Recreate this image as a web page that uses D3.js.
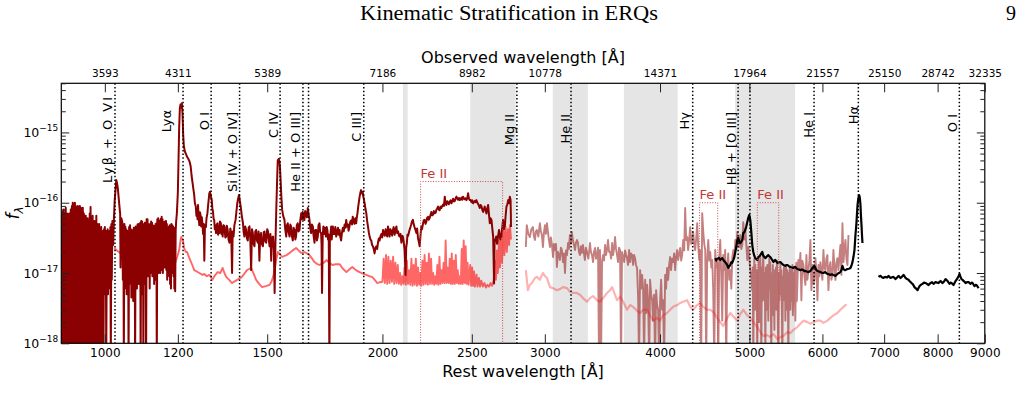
<!DOCTYPE html>
<html><head><meta charset="utf-8">
<script src="https://cdn.jsdelivr.net/npm/d3@7"></script>
<style>body{margin:0;background:#fff}svg{display:block}</style>
</head><body>
<svg id="chart" width="1021" height="403" font-family="DejaVu Sans, sans-serif"></svg>
<script>
// ---------------- data ----------------
const restTicks = [1000,1200,1500,2000,2500,3000,4000,5000,6000,7000,8000,9000];
const observedTickLabels = ["3593","4311","5389","7186","8982","10778","14371","17964","21557","25150","28742","32335"];
const yMajorTicks = [1e-18,1e-17,1e-16,1e-15];
const yTickExponents = ["−18","−17","−16","−15"];
const minorMultipliers = [2,3,4,5,6,7,8,9];
const shadedBands = [[2105,2130],[2490,2790],[3060,3340],[3655,4180],[4825,5605]];
const lineNames = ["Lyβ + O VI","Lyα","O I","Si IV + O IV]","C IV","He II + O III]","C III]","Mg II","He II","Hγ","Hβ + [O III]","He I","Hα","O I"];
const lineWaves = [1025.7,1215.7,1304,1400,1549,1640,1909,2798,3203,4340,4861,5876,6563,8446];
const extraLineWaves = [1663,5007];
const feBands = [[2200,2700],[4415,4620],[5100,5380]];
const feTops = [2e-16,1e-16,1e-16];
const fluxUnit = 1e-17; // spectra below are in units of 1e-17

const specBlue = [[895,7],[896,0.05],[897.5,6.5],[898.5,0.05],[900,7.5],[901,0.2],[902,8],[903,0.05],[904.5,7],[905.5,0.05],[907,8.5],[908,0.1],[909,6.5],[910,0.05],[911.5,7],[912.5,0.05],[914,6],[915,0.3],[916,7],[917,0.05],[918.5,8],[919.5,0.05],[921,9],[922,0.05],[923,10],[924,0.1],[925.5,9.5],[926.5,0.05],[928,10],[929,0.05],[930,9],[931,0.2],[932.5,8.5],[933.5,0.05],[935,9],[936,0.05],[937,8],[938,0.1],[939.5,9],[940.5,0.05],[942,8.5],[943,0.05],[944,7.5],[945,0.3],[946.5,8.5],[947.5,0.05],[949,7],[950,0.05],[951,6],[952,0.15],[953.5,6.5],[954.5,0.05],[956,5.5],[957,0.4],[958,6],[959,0.05],[960.5,5.5],[961.5,0.05],[963,7],[964,0.2],[965,8.7],[966,0.05],[967.5,6],[968.5,0.05],[970,6.5],[971,0.3],[972,5],[973,0.05],[974.5,5.5],[975.5,0.05],[977,5],[978,0.5],[979,6.5],[980,0.05],[981.5,5],[982.5,0.05],[984,4.5],[985,0.3],[986,5],[987,0.05],[988.5,4],[989.5,0.4],[991,4.5],[992,0.05],[993,4],[994,0.6],[995.5,3.8],[996.5,0.05],[998,4.2],[999,0.7],[1000,4.5],[1001,0.5],[1002.5,4],[1003.5,0.05],[1005,3.8],[1006,0.8],[1007,4.2],[1008,0.5],[1009.5,3.6],[1010.5,0.9],[1012,4],[1013,0.6],[1014,4.5],[1015,0.05],[1016.5,5],[1017.5,0.8],[1019,5.5],
[1020,5.5],[1021,2.5],[1023,6],[1025,11],[1027,15],[1029,21],[1031,19],[1033,16],[1035,12],[1037,9],[1039,7],[1040,1.2],[1042,6],[1044,5.5],
[1045,5],[1046,0.8],[1047.5,4.5],[1048.5,0.05],[1050,5],[1051,0.6],[1052.5,4.6],[1053.5,0.8],[1055,4.2],[1056,0.5],[1057.5,4],[1058.5,0.9],[1060,3.8],[1061,0.05],[1062.5,4.5],[1063.5,0.7],[1065,4.8],[1066,0.9],[1067.5,4.2],[1068.5,0.45],[1070,3.8],[1071,0.7],[1072.5,4.1],[1073.5,0.4],[1075,4.4],[1076,0.8],[1077.5,4.2],[1078.5,0.05],[1080,4.6],[1081,0.9],[1082.5,4.5],[1083.5,0.6],[1085,4.9],[1086,1.0],[1087.5,5],[1088.5,0.7],[1090,4.5],[1091,0.8],[1092.5,5.2],[1093.5,0.05],[1095,5.5],[1096,0.9],[1097.5,5.4],[1098.5,0.5],[1100,4.8],[1101,0.05],[1102.5,5],[1103.5,1.0],[1105,5.2],[1106,0.7],[1107.5,4.6],[1108.5,0.05],[1110,5.8],[1111,1.0],[1112.5,5.8],[1113.5,0.9],[1115,5],[1116,1.1],[1117.5,4.6],[1118.5,0.6],[1120,5],[1121,1.0],[1122.5,5.4],[1123.5,1.2],[1125,5.2],[1126,0.9],[1127.5,4.8],[1128.5,1.1],[1130,4.4],[1131,0.7],[1132.5,4.7],[1133.5,1.0],[1135,5],[1136,0.8],[1137.5,5.1],[1138.5,0.05],[1140,5.8],[1141,1.1],[1142.5,6],[1143.5,1.0],[1145,5.6],[1146,1.2],[1147.5,5.5],[1148.5,1.0],[1150,5.9],[1151,1.3],[1152.5,6.3],[1153.5,1.1],[1155,5.8],[1156,1.0],[1157.5,5.3],[1158.5,1.4],[1160,5],[1161,1.2],[1162.5,5.4],[1163.5,1.5],[1165,5.5],[1166,1.1],[1167.5,5],[1168.5,0.8],
[1170,4.2],[1171,4.4],[1172,1.1],[1173.5,4.6],[1174.5,0.9],[1176,4.8],[1177,0.7],[1178.5,4.5],[1179.5,0.6],[1181,5],[1182,1.0],[1183.5,4.8],[1184.5,1.1],[1186,4.6],[1187,0.9],[1188.5,4.4],[1189.5,0.6],[1191,4.2],[1192,0.55],[1193.5,4.0],[1195,5.5],[1197,7],[1200,14],[1202,40],[1204,120],[1206,220],[1208,250],[1210,225],[1212,260],[1214,190],[1216,95],[1218,65],[1221,54],[1224,50],[1228,45],[1232,42],[1236,38],[1239,33],[1242,24],[1245,19],[1248,15],
[1250,12.9],[1252,10],[1255,8.8],[1257,6.5],[1259,7.4],[1260.5,5.8],[1262,9.3],[1264,6.2],[1266,4.8],[1268,7.3],[1270,6.7],[1272,4.6],[1274,6.2],[1276,5.1],[1278,3.6],[1280,5],[1282,1.5],[1284,4.8],[1287,4.5],[1289,6],[1292,7.1],[1294,9],[1296,11],[1298,13.5],[1300,14.3],[1303,12.5],[1306,10.9],[1308,8.3],[1310,7.5],[1312,5.9],[1314,5.7],[1316,4.2],[1318,4.6],[1320,3.7],[1322,4.9],[1325,5.1],[1327,3.5],[1329,4.6],[1331,3.7],[1333,5.4],[1336,5.1],[1338,3.6],[1340,4.6],[1342,3.3],[1345,4.8],[1348,4.6],[1351,3.2],[1354,3.3],[1356,4.7],[1359,4.1],[1362,3.0],[1365,2.7],[1368,4.3],[1371,3.7],[1374,1.0],[1376,3.9],[1379,3.3],[1382,4.8],[1386,5.7],[1389,7.5],[1392,9.9],[1395,11.5],[1398,12.9],[1401,10.5],[1404,8.8],[1408,6.4],[1412,5.1],[1414,3.9],[1417,3.3],[1420,4.6],[1423,4.1],[1426,3.1],[1429,2.9],[1432,4.4],[1435,4.6],[1438,3.0],[1441,1.1],[1444,4.2],[1447,3.7],[1450,2.6],[1453,2.4],[1456,3.9],[1459,4.1],[1462,2.9],[1465,2.7],[1468,3.9],[1471,1.5],[1474,3.4],[1477,3.7],[1480,2.6],[1484,2.4],[1487,3.8],[1490,3.9],[1493,2.8],[1496,2.7],[1500,4.2],[1503,3.9],[1506,2.9],[1509,2.4],[1512,3.6],[1515,1.5],[1518,3.2],[1522,3.3],[1525,2.2],[1528,0.52],[1531,2.5],[1534,7.1],[1537,18],[1540,40],[1544,42],[1547,38],[1549,30],[1551,21],[1554,12],[1557,7.9],[1561,6.5],[1566,5.7],[1569,4.2],[1573,3.3],[1576,4.8],[1579,5.1],[1582,3.9],[1586,3.3],[1589,4.9],[1592,4.6],[1595,3.4],[1599,2.9],[1602,4.4],[1606,4.1],[1609,3.0],[1612,3.3],[1615,4.8],[1619,5.1],[1622,3.9],[1626,4.1],[1629,5.6],[1633,7.1],[1636,5.8],[1639,7.4],[1642,6.0],[1646,5.7],[1649,7.6],[1653,7.1],[1656,6.2],[1660,8.4],[1663,7.0],[1667,5.7],[1670,4.4],[1674,3.7],[1677,4.9],[1681,4.6],[1684,3.4],[1688,2.7],[1691,4.1],[1695,4.1],[1698,2.9],[1702,3.3],[1705,4.8],[1709,5.1],[1712,3.8],[1716,3.7],[1718,2.5],[1720,0.52],[1723,3.5],[1726,4.6],[1730,3.6],[1733,4.4],
[1737,3.3],[1740,4.5],[1743,4.1],[1746,3.0],[1749,3.5],[1752,0.05],[1754,3.1],[1757,3.7],[1760,4.6],[1762,3.0],[1765,3.9],[1767,4.6],[1770,3.6],[1774,3.6],[1778,4.5],[1782,3.3],[1786,3.9],[1790,4.4],[1793,3.5],[1797,4.1],[1800,3.3],[1804,2.9],[1808,3.8],[1812,4.4],[1816,3.9],[1820,4.9],[1824,4.4],[1827,5.7],[1831,4.6],[1835,4.9],[1838,4.0],[1842,4.6],[1846,5.4],[1850,5.6],[1854,4.9],[1857,6.3],[1861,5.6],[1865,5.0],[1869,6.0],[1873,5.1],[1876,6.2],[1879,7],[1882,8.5],[1885,9.9],[1888,11.5],[1890,12.5],[1893,14],[1896,15.1],[1900,13.5],[1904,14.3],[1906,12.5],[1909,11.5],[1911,10.5],[1913,9.9],[1917,8.2],[1921,7.1],[1925,5.5],[1929,4.6],[1933,3.8],[1937,3.3],[1941,3.0],[1945,2.9],[1949,2.5],[1953,2.4],[1957,2.2],[1961,1.9],[1966,2.3],[1970,2.4],[1974,2.2],[1978,2.7],[1982,3.1],[1986,2.9],[1990,3.3],[1995,3.6],[1999,3.2],[2003,4.1],[2007,3.6],[2012,3.4],[2016,4.2],[2020,3.7],[2024,3.3],[2028,4.6],[2032,3.9],[2036,3.3],[2040,4.2],[2045,3.9],[2049,3.4],[2053,4.1],[2057,4.5],[2062,3.5],[2066,4.1],[2071,4.6],[2075,3.7],[2080,3.9],[2084,3.4],[2088,3.3],[2092,3.6],[2097,2.7],[2101,3.4],[2105,3.3],[2109,2.8],[2114,2.1],[2119,0.94],[2122,2.3],[2126,2.7],[2129,3.5],[2133,3.4],[2137,3.8],[2140,4.1],[2145,4.5],[2149,4.9],[2153,5.4],[2158,5.7],[2162,5.0],[2167,4.5],[2172,4.1],[2177,3.7],[2181,4.3],[2186,3.1],[2190,2.8],[2195,2.4],[2200,3.6],[2204,4.6],[2208,4.2],[2213,5.0],[2217,5.6],[2222,5.7],[2227,5.0],[2232,5.4],[2236,6.1],[2241,6.3],[2245,5.7],[2250,6.0],[2255,6.7],[2260,7.4],[2265,6.6],[2270,6.8],[2274,7.6],[2279,7.1],[2284,7.2],[2288,7.9],[2293,8.3],[2298,8.8],[2302,8.0],[2307,7.8],[2312,8.8],[2317,8.4],[2322,9.0],[2327,9.4],[2332,9.0],[2337,12.2],[2341,9.6],[2346,9.3],[2351,10.5],[2356,10.2],[2361,9.5],[2366,10.3],[2371,10.8],[2376,9.8],[2381,10.5],[2386,11.4],[2391,10.4],[2396,10.6],[2401,11.5],[2406,12.2],[2411,11.4],[2416,11.0],[2421,11.7],[2426,10.9],[2431,11.3],[2436,11.8],[2441,11.0],[2446,12.2],[2451,11.5],[2456,11.2],[2462,11.6],[2467,10.9],[2472,11.6],[2477,13.6],[2482,11.5],[2487,10.9],[2493,10.9],[2498,10.2],[2503,10.8],[2508,9.8],[2513,10.2],[2518,10.6],[2524,10.2],[2529,10.9],[2535,10.0],[2540,9.6],[2545,9.1],[2550,8.4],[2556,9.3],[2561,8.9],[2566,8.0],[2572,7.4],[2577,8.1],[2582,8.8],[2588,7.8],[2593,7.0],[2598,8.2],[2604,9.3],[2609,7.0],[2615,5.1],[2620,6.0],[2626,5.7],[2631,4.4],[2637,3.3],[2643,0.71],[2646,2.5],[2648,3.0],[2652,2.9],[2657,3.3],[2663,2.6],[2670,3.4],[2676,4.1],[2680,3.6],[2684,3.0],[2688,3.6],[2692,3.3],[2697,4.4],[2703,5.7],[2706,4.8],[2709,4.2],[2712,5.1],[2715,4.6],[2720,6.4],[2726,8.8],[2732,9.5],[2738,10.9],[2744,9.8],[2749,12.2],[2754,11],[2756,7.0],[2757,4.5]];

const modelBlue = [[1024,2.27],[1029,2.12],[1036,1.99],[1045,1.8],[1055,1.69],[1063,1.6],[1071,1.53],[1080,1.5],[1090,1.43],[1100,1.42],[1109,1.39],[1118,1.4],[1126,1.39],[1135,1.42],[1145,1.43],[1155,1.5],[1166,1.53],[1175,1.48],[1184,1.43],[1193,1.43],[1198,1.69],[1204,2.12],[1208,2.9],[1210,3.25],[1213,3.0],[1215,2.95],[1219,2.27],[1224,1.99],[1228,1.99],[1235,1.63],[1244,1.3],[1250,1.1],[1258,1.05],[1266,1.0],[1276,0.94],[1282,0.97],[1290,0.9],[1298,0.94],[1303,0.88],[1308,0.80],[1316,0.92],[1325,1.03],[1334,1.0],[1342,1.18],[1348,1.0],[1354,0.88],[1364,0.8],[1374,0.72],[1383,0.76],[1392,0.80],[1400,0.84],[1408,0.88],[1417,0.98],[1426,1.10],[1434,1.14],[1441,1.18],[1450,0.98],[1459,0.80],[1470,0.7],[1481,0.63],[1495,0.65],[1509,0.68],[1516,0.75],[1522,0.88],[1528,1.1],[1534,1.53],[1540,1.99],[1548,1.85],[1557,1.69],[1566,1.75],[1575,1.80],[1586,1.93],[1599,2.1],[1612,2.27],[1622,2.1],[1633,1.93],[1640,1.95],[1646,1.99],[1656,1.9],[1667,1.80],[1678,1.6],[1688,1.43],[1698,1.35],[1709,1.30],[1720,1.36],[1731,1.43],[1739,1.53],[1752,1.4],[1765,1.30],[1780,1.33],[1797,1.34],[1812,1.15],[1828,1.03],[1841,1.12],[1855,1.22],[1872,1.1],[1889,1.03],[1905,0.98],[1921,0.94],[1935,0.9],[1949,0.88],[1962,0.8],[1974,0.72],[1988,0.74],
[2000,0.75],[2006,1.6],[2012,0.72],[2018,1.8],[2024,0.7],[2030,1.7],[2036,0.72],[2042,1.5],[2048,0.75],[2054,1.7],[2060,0.7],[2066,1.4],[2072,0.72],[2078,1.3],[2084,0.7],[2090,1.0],[2096,0.68],[2102,0.9],[2108,0.7],[2114,1.2],[2120,0.68],[2126,1.5],[2132,0.7],[2138,1.1],[2144,0.68],[2150,1.6],[2156,0.66],[2162,1.3],[2168,0.68],[2174,1.6],[2180,0.66],[2186,1.2],[2192,0.68],[2198,1.0],[2204,0.66],[2210,1.5],[2216,0.68],[2222,1.8],[2228,0.7],[2234,1.4],[2240,0.68],[2246,1.9],[2252,0.7],[2258,1.6],[2264,0.7],[2270,1.0],[2276,0.68],[2282,0.9],[2288,0.7],[2294,1.3],[2300,0.68],[2306,1.7],[2312,0.7],[2318,1.1],[2324,0.72],[2330,1.4],[2336,0.72],[2342,2.9],[2348,0.72],[2354,1.2],[2360,0.72],[2366,1.6],[2372,0.7],[2378,1.9],[2384,0.7],[2390,1.5],[2396,0.7],[2402,1.8],[2408,0.72],[2414,1.1],[2420,0.7],[2426,0.9],[2432,0.7],[2438,2.2],[2444,0.7],[2450,2.9],[2456,0.72],[2462,2.4],[2468,0.7],[2474,1.4],[2480,0.68],[2490,1.3],[2496,0.66],[2502,1.2],[2508,0.66],[2514,1.05],[2520,0.64],[2530,0.95],[2536,0.64],[2545,0.85],[2552,0.64],[2560,0.78],[2570,0.64],[2580,0.72],[2590,0.62],[2600,0.68],[2610,0.64],[2620,0.72],[2630,0.66],[2640,0.78],[2648,1.5],[2655,0.8],[2662,2.1],[2668,1.0],[2675,2.9],[2682,1.2],[2690,3.5],[2696,1.4],[2705,4.0],[2712,1.8],[2720,4.5],[2728,2.0],[2736,4.2],[2744,2.5],[2750,4.8],[2757,3.0]];

const specNir = [[2861,2.34],[2868,4.8],[2879,3.6],[2890,3.25],[2901,4.2],[2912,4.5],[2920,3.3],[2927,2.95],[2934,3.9],[2941,4.1],[2952,3.3],[2963,5.1],[2970,4.0],[2978,3.47],[2986,2.34],[2993,3.7],[3001,4.8],[3008,3.6],[3016,5.1],[3023,3.9],[3031,2.95],[3039,2.34],[3046,3.2],[3054,2.5],[3062,1.69],[3069,2.6],[3077,2.12],[3085,2.6],[3092,1.22],[3100,2.0],[3107,1.8],[3115,1.53],[3123,2.3],[3131,2.12],[3139,1.43],[3147,1.9],[3155,1.0],[3163,2.1],[3171,1.8],[3179,2.67],[3186,2.2],[3194,3.47],[3202,2.6],[3210,3.83],[3218,2.9],[3227,2.5],[3235,2.12],[3243,2.7],[3251,2.95],[3259,2.67],[3267,2.0],[3275,1.8],[3283,2.4],[3291,1.93],[3300,2.5],[3308,1.9],[3316,1.53],[3324,2.3],[3333,1.99],[3345,1.6],[3358,2.67],[3366,2.0],[3375,1.8],[3384,1.43],[3392,2.0],[3401,2.27],[3409,1.6],[3418,1.8],[3426,2.3],[3435,0.05],[3443,2.12],[3452,0.05],[3461,1.5],[3470,1.8],[3478,1.5],[3487,2.5],[3495,1.8],[3504,2.12],[3513,2.95],[3522,2.0],[3531,1.99],[3540,1.6],[3549,2.67],[3557,1.8],[3566,2.2],[3575,3.25],[3584,2.2],[3593,1.8],[3602,1.43],[3611,2.3],[3620,2.12],[3629,0.05],[3638,1.99],[3648,1.7],[3657,1.43],[3666,2.1],[3675,1.8],[3684,1.63],[3693,1.3],[3703,2.12],[3712,1.43],[3721,1.9],[3731,1.8],[3740,1.3],[3749,1.8],[3758,1.63],[3767,1.3],[3777,1.18],[3787,0.46],[3796,0.05],[3806,1.1],[3815,0.6],[3825,0.94],[3835,0.57],[3844,0.05],[3854,0.8],[3864,0.27],[3873,0.68],[3883,0.4],[3893,0.05],[3902,0.8],[3912,0.5],[3922,0.41],[3931,0.21],[3941,0.49],[3951,0.05],[3961,0.57],[3971,0.35],[3981,0.3],[3991,0.05],[4001,0.41],[4011,0.8],[4021,0.3],[4031,0.41],[4041,0.05],[4051,0.94],[4061,0.6],[4071,1.18],[4082,0.8],[4092,1.3],[4102,1.69],[4112,1.1],[4122,1.6],[4133,1.43],[4143,1.9],[4154,1.1],[4164,1.7],[4175,2.12],[4185,1.53],[4196,1.9],[4206,2.27],[4217,1.5],[4227,1.8],[4238,2.95],[4249,2.1],[4259,8.4],[4270,2.95],[4281,3.25],[4291,2.12],[4302,3.0],[4313,4.5],[4324,2.6],[4335,2.95],[4345,3.83],[4356,2.6],[4367,2.12],[4378,3.1],[4389,5.1],[4400,2.5],[4411,1.53],[4422,2.12],[4433,0.05],[4444,7.1],[4456,3.83],[4467,2.6],[4478,2.12],[4489,0.05],[4500,1.53],[4512,2.95],[4523,1.5],[4534,1.99],[4546,1.2],[4557,1.53],[4568,0.57],[4580,0.05],[4591,2.12],[4603,1.2],[4614,1.43],[4626,0.05],[4637,1.53],[4649,2.95],[4660,1.0],[4672,0.21],[4684,1.8],[4695,1.1],[4707,2.12],[4719,0.05],[4731,1.3],[4743,1.9],[4755,0.8],[4767,1.1],[4779,0.6],[4791,1.69],[4803,2.12],[4815,1.6],[4827,2.95],[4839,2.2],[4851,3.83],[4863,2.8],[4875,2.34],[4887,3.47],[4900,2.2],[4912,2.5],[4924,5.3],[4937,3.0],[4949,4.1],[4961,2.6],[4974,1.53],[4986,2.34],[4999,1.6],
[5011,1.1],[5024,0.9],[5036,0.57],[5042,1.2],[5049,0.05],[5056,0.9],[5062,1.6],[5068,0.3],[5074,1.3],[5080,0.6],[5087,0.3],[5093,1.1],[5099,0.05],[5105,0.8],[5112,0.57],[5119,1.5],[5125,0.2],[5132,0.9],[5138,1.8],[5145,0.5],[5151,0.05],[5158,1.2],[5164,0.4],[5171,1.4],[5177,1.8],[5184,0.7],[5190,0.41],[5197,1.0],[5203,0.05],[5210,1.2],[5216,0.94],[5223,0.3],[5229,1.3],[5236,0.5],[5242,0.21],[5249,1.1],[5255,1.6],[5262,0.6],[5268,1.43],[5275,0.4],[5281,0.05],[5288,1.0],[5295,0.57],[5302,1.3],[5309,0.25],[5315,0.8],[5322,0.155],[5329,1.1],[5335,0.41],[5342,1.2],[5349,0.3],[5355,1.5],[5362,0.94],[5368,0.2],[5375,0.05],[5382,1.0],[5389,0.41],[5396,0.9],[5402,1.3],[5409,0.5],[5416,1.1],[5422,0.3],[5429,0.05],[5436,0.9],[5443,0.41],[5450,1.2],[5456,0.6],[5463,1.0],[5470,0.21],[5477,1.3],[5484,0.8],[5491,0.3],[5498,1.1],[5504,0.5],[5511,0.05],[5518,1.0],[5525,0.57],[5532,1.2],[5539,0.3],[5546,0.8],[5553,1.1],[5560,0.4],[5567,1.3],[5573,0.25],[5580,0.41],[5587,1.0],[5594,0.5],[5601,1.2],[5608,0.21],[5615,0.9],[5622,1.4],[5629,0.4],[5636,0.68],[5643,1.2],[5651,1.53],
[5665,1.1],[5679,1.93],[5693,0.41],[5707,1.5],[5722,1.3],[5736,0.9],[5750,0.68],[5765,1.8],[5779,0.8],[5794,1.1],[5808,1.5],[5823,2.95],[5837,0.57],[5852,1.3],[5866,0.7],[5881,0.8],[5896,1.63],[5911,1.0],[5926,0.41],[5941,1.3],[5955,0.9],[5970,1.43],[5985,1.1],[6000,0.8],[6015,2.12],[6030,1.2],[6045,1.1],[6060,1.6],[6075,1.8],[6091,0.57],[6106,1.2],[6121,1.43],[6136,0.8],[6152,0.94],[6167,2.12],[6183,1.2],[6198,0.8],[6213,1.4],[6229,1.63],[6245,1.1],[6260,1.7],[6276,2.5],[6292,0.94],[6308,5.1],[6324,1.43],[6340,2.2],[6355,2.95],[6371,1.6],[6387,1.3],[6403,3.47]];

const modelNir = [[2861,1.1],[2876,0.57],[2890,0.68],[2905,0.72],[2927,0.85],[2941,0.88],[2963,0.8],[2986,1.0],[3001,0.91],[3016,0.85],[3039,0.63],[3062,0.61],[3092,0.57],[3115,0.59],[3139,0.63],[3171,0.61],[3194,0.54],[3219,0.52],[3251,0.52],[3275,0.49],[3300,0.44],[3333,0.39],[3358,0.44],[3384,0.47],[3418,0.41],[3443,0.39],[3470,0.44],[3504,0.52],[3531,0.57],[3549,0.63],[3575,0.49],[3593,0.41],[3620,0.46],[3648,0.39],[3684,0.3],[3712,0.35],[3740,0.33],[3777,0.29],[3806,0.27],[3835,0.3],[3873,0.3],[3902,0.25],[3931,0.21],[3971,0.23],[4001,0.21],[4031,0.25],[4071,0.27],[4102,0.3],[4133,0.33],[4175,0.35],[4206,0.375],[4238,0.39],[4281,0.41],[4313,0.33],[4345,0.3],[4389,0.35],[4422,0.375],[4456,0.33],[4500,0.3],[4534,0.3],[4568,0.28],[4614,0.23],[4649,0.2],[4684,0.176],[4731,0.23],[4767,0.27],[4803,0.24],[4851,0.21],[4887,0.26],[4924,0.3],[4974,0.25],[5011,0.23],[5049,0.2],[5099,0.17],[5138,0.145],[5177,0.127],[5229,0.131],[5268,0.123],[5309,0.136],[5362,0.115],[5402,0.123],[5443,0.127],[5498,0.145],[5539,0.14],[5580,0.155],[5636,0.17],[5679,0.19],[5722,0.21],[5779,0.2],[5823,0.19],[5867,0.2],[5926,0.21],[5970,0.21],[6015,0.195],[6075,0.21],[6121,0.23],[6167,0.25],[6229,0.27],[6276,0.3],[6324,0.33],[6371,0.36]];

const specH = [[4591,1.63],[4603,1.5],[4614,1.58],[4632,1.65],[4649,1.53],[4672,1.63],[4690,1.5],[4707,1.43],[4731,1.3],[4743,1.18],[4755,1.25],[4767,1.3],[4779,1.43],[4791,1.4],[4803,1.53],[4815,1.7],[4827,1.99],[4839,2.34],[4851,2.9],[4863,3.15],[4875,2.8],[4887,2.67],[4900,2.8],[4912,2.95],[4924,3.71],[4937,3.8],[4949,4.1],[4961,4.6],[4974,5.3],[4986,6.1],[4999,6.7],[5011,5.7],[5024,3.83],[5036,2.5],[5049,1.99],[5062,1.75],[5074,1.63],[5087,1.58],[5099,1.53],[5112,1.69],[5125,1.72],[5138,1.8],[5151,1.9],[5164,1.99],[5177,1.75],[5190,1.7],[5203,1.63],[5216,1.68],[5229,1.75],[5242,1.8],[5255,1.72],[5268,1.69],[5282,1.6],[5295,1.53],[5309,1.43],[5322,1.5],[5335,1.53],[5349,1.45],[5362,1.39],[5382,1.42],[5402,1.43],[5422,1.36],[5443,1.3],[5456,1.28],[5470,1.26],[5484,1.3],[5498,1.3],[5518,1.25],[5539,1.22],[5560,1.2],[5580,1.18],[5594,1.21],[5608,1.22],[5622,1.17],[5636,1.14],[5658,1.12],[5679,1.1],[5700,1.12],[5722,1.1],[5736,1.06],[5750,1.07],[5772,1.05],[5794,1.03],[5808,1.05],[5823,1.07],[5837,1.12],[5852,1.18],[5866,1.22],[5881,1.26],[5896,1.18],[5911,1.1],[5926,1.07],[5948,1.05],[5970,1.03],[5992,1.01],[6015,1.0],[6030,1.02],[6045,1.03],[6060,0.99],[6075,0.97],[6098,0.96],[6121,0.94],[6144,0.96],[6167,0.94],[6183,0.92],[6198,0.91],[6213,0.94],[6229,0.97],[6252,1.0],[6276,1.03],[6292,1.1],[6308,1.26],[6324,1.14],[6340,1.1],[6355,1.1],[6371,1.12],[6387,1.14],[6411,1.15],[6435,1.18],[6452,1.28],[6468,1.43],[6484,1.7],[6500,2.12],[6508,2.7],[6516,3.47],[6525,4.3],[6533,5.3],[6541,7.0],[6549,9.0],[6557,10.5],[6565,11.7],[6574,12.8],[6582,12.5],[6590,11.2],[6598,9.3],[6606,6.5],[6615,4.8],[6623,3.5],[6631,2.67]];

const specK = [[6902,0.88],[6919,0.9],[6936,0.91],[6962,0.87],[6988,0.85],[7005,0.87],[7023,0.88],[7050,0.86],[7076,0.91],[7094,0.88],[7112,0.85],[7138,0.87],[7165,0.88],[7183,0.85],[7201,0.82],[7228,0.86],[7256,0.91],[7274,0.88],[7292,0.85],[7320,0.89],[7347,0.94],[7365,0.9],[7384,0.85],[7411,0.82],[7439,0.8],[7457,0.77],[7476,0.745],[7495,0.72],[7514,0.7],[7532,0.67],[7551,0.63],[7580,0.6],[7608,0.57],[7627,0.61],[7646,0.65],[7674,0.68],[7703,0.7],[7732,0.73],[7762,0.72],[7791,0.7],[7820,0.675],[7840,0.7],[7860,0.72],[7890,0.74],[7919,0.7],[7938,0.72],[7958,0.745],[7988,0.73],[8018,0.72],[8038,0.75],[8058,0.77],[8078,0.74],[8099,0.72],[8130,0.76],[8160,0.82],[8180,0.79],[8201,0.77],[8222,0.73],[8242,0.7],[8262,0.73],[8283,0.72],[8304,0.7],[8324,0.675],[8345,0.72],[8366,0.77],[8387,0.8],[8408,0.85],[8429,0.9],[8450,0.97],[8471,0.88],[8492,0.82],[8514,0.8],[8535,0.77],[8557,0.75],[8578,0.72],[8610,0.74],[8643,0.745],[8664,0.72],[8686,0.7],[8708,0.73],[8730,0.72],[8752,0.68],[8773,0.65],[8795,0.68],[8817,0.675],[8840,0.64],[8862,0.61]];

// ---------------- layout ----------------
const M = {left:61.3, right:984.8, top:83.3, bottom:343.3};
const labelTop = [97,110,112,112,112,112,112,114,114,112,112,112,106,114];
const labelDx = [-2.5,-12,-2.5,-2.5,-2.5,-2.5,-2.5,-3,-1,-3.5,-2.5,-1,-0.5,-2.5];
const labelLen = [86,null,null,null,null,null,null,null,null,null,null,null,null,null];

const svg = d3.select("#chart");
const x = d3.scaleLog().domain([897,9000]).range([M.left,M.right]);
const y = d3.scaleLog().domain([1e-18,5e-15]).range([M.bottom,M.top]);

svg.append("defs").append("clipPath").attr("id","plotclip")
  .append("rect").attr("x",M.left).attr("y",M.top).attr("width",M.right-M.left).attr("height",M.bottom-M.top);
const plot = svg.append("g").attr("clip-path","url(#plotclip)");

plot.selectAll("rect.band").data(shadedBands).join("rect")
  .attr("x",d=>x(d[0])).attr("width",d=>x(d[1])-x(d[0]))
  .attr("y",M.top).attr("height",M.bottom-M.top).attr("fill","#e5e5e5");

const line = d3.line().x(d=>x(d[0])).y(d=>y(Math.max(d[1]*fluxUnit,1e-19)));
function drawSpec(data,color,op,w){
  plot.append("path").attr("d",line(data)).attr("fill","none").attr("stroke",color)
    .attr("stroke-opacity",op).attr("stroke-width",w).attr("stroke-linejoin","round");
}
drawSpec(modelBlue,"#ff0000",0.6,1.9);
drawSpec(specBlue,"#8b0000",1,2);
drawSpec(specNir,"#8b0000",0.5,1.9);
drawSpec(modelNir,"#ff0000",0.3,2.2);
drawSpec(specH,"#000",1,2.2);
drawSpec(specK,"#000",1,2.2);

const allLines = lineWaves.concat(extraLineWaves);
plot.selectAll("line.marker").data(allLines).join("line")
  .attr("x1",d=>x(d)).attr("x2",d=>x(d)).attr("y1",M.top).attr("y2",M.bottom)
  .attr("stroke","#000").attr("stroke-width",1.5).attr("stroke-dasharray","1.5,2.2");

feBands.forEach((b,i)=>{
  const x0=x(b[0]), x1=x(b[1]), yt=y(feTops[i]);
  plot.append("path").attr("d",`M${x0},${M.bottom}V${yt}H${x1}V${M.bottom}`)
    .attr("fill","none").attr("stroke","#d04848").attr("stroke-width",1).attr("stroke-dasharray","1,1.6");
  svg.append("text").attr("x",x0).attr("y",yt-3.5).attr("font-size",13).attr("fill","#c03838").text("Fe II");
});

lineNames.forEach((n,i)=>{
  const t = svg.append("text")
    .attr("transform",`translate(${x(lineWaves[i])+labelDx[i]},${labelTop[i]}) rotate(-90)`)
    .attr("text-anchor","end").attr("font-size",13).attr("fill","#000").text(n);
  if(labelLen[i]) t.attr("textLength",labelLen[i]).attr("lengthAdjust","spacing");
});

svg.append("rect").attr("x",M.left).attr("y",M.top).attr("width",M.right-M.left).attr("height",M.bottom-M.top)
  .attr("fill","none").attr("stroke","#000").attr("stroke-width",1.2);

function styleAxis(g){ g.select(".domain").remove(); g.selectAll(".tick line").attr("stroke","#222").attr("stroke-width",1); }
svg.append("g").attr("transform",`translate(0,${M.bottom})`)
  .call(d3.axisBottom(x).tickValues(restTicks).tickFormat(d3.format("d")).tickSize(-9).tickPadding(5))
  .call(styleAxis).call(g=>g.selectAll("text").attr("font-size",12).attr("fill","#000").attr("font-family","DejaVu Sans, sans-serif"));
svg.append("g").attr("transform",`translate(0,${M.top})`)
  .call(d3.axisTop(x).tickValues(restTicks).tickFormat((d,i)=>observedTickLabels[i]).tickSize(-9).tickPadding(6))
  .call(styleAxis).call(g=>g.selectAll("text").attr("font-size",10.5).attr("fill","#000").attr("font-family","DejaVu Sans, sans-serif"));

const minorTicks = [];
[1e-18,1e-17,1e-16,1e-15].forEach(b=>minorMultipliers.forEach(m=>{ if(b*m<=5.0001e-15) minorTicks.push(b*m); }));
[["axisLeft",M.left],["axisRight",M.right]].forEach(([fn,px])=>{
  svg.append("g").attr("transform",`translate(${px},0)`)
    .call(d3[fn](y).tickValues(yMajorTicks).tickFormat("").tickSize(-8)).call(styleAxis);
  svg.append("g").attr("transform",`translate(${px},0)`)
    .call(d3[fn](y).tickValues(minorTicks).tickFormat("").tickSize(-4.5)).call(styleAxis);
});
yMajorTicks.forEach((v,i)=>{
  const t = svg.append("text").attr("x",M.left-3).attr("y",y(v)+4.5).attr("text-anchor","end").attr("font-size",12.5).attr("fill","#000");
  t.append("tspan").text("10");
  t.append("tspan").attr("dy",-6).attr("font-size",9).text(yTickExponents[i]);
});

svg.append("text").attr("x",523).attr("y",377).attr("text-anchor","middle").attr("font-size",16).text("Rest wavelength [Å]");
svg.append("text").attr("x",523).attr("y",63).attr("text-anchor","middle").attr("font-size",16).text("Observed wavelength [Å]");
const fl = svg.append("text").attr("transform","translate(19,213) rotate(-90)").attr("text-anchor","middle").attr("font-size",17).attr("font-style","italic");
fl.append("tspan").text("f");
fl.append("tspan").attr("dy",4).attr("font-size",12).text("λ");

svg.append("text").attr("x",509).attr("y",20).attr("text-anchor","middle").attr("font-family","Liberation Serif, serif")
  .attr("font-size",20).attr("textLength",298).attr("lengthAdjust","spacingAndGlyphs").text("Kinematic Stratification in ERQs");
svg.append("text").attr("x",1016).attr("y",20).attr("text-anchor","end").attr("font-family","Liberation Serif, serif").attr("font-size",20).text("9");
</script>
</body></html>
